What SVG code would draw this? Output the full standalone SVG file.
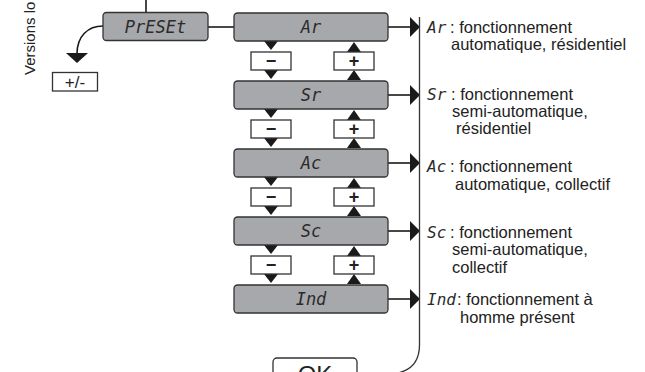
<svg xmlns="http://www.w3.org/2000/svg" width="645" height="372" viewBox="0 0 645 372">
<style>
.box{fill:#a7a8ab;stroke:#333;stroke-width:1.3}
.wbox{fill:#fff;stroke:#333;stroke-width:1.3}
.lcd{font-family:"DejaVu Sans Mono",monospace;font-style:italic;font-size:17px;fill:#2b2b2b;text-anchor:middle}
.lcds{font-family:"DejaVu Sans Mono",monospace;font-style:italic;font-size:16px;fill:#2b2b2b}
.pm{font-family:"Liberation Sans",Arial,sans-serif;font-weight:bold;font-size:18px;fill:#222;text-anchor:middle}
.txt{font-family:"Liberation Sans",Arial,sans-serif;font-size:16.5px;fill:#222}
.ln{fill:none;stroke:#1a1a1a;stroke-width:1.6}
.thin{fill:none;stroke:#333;stroke-width:1.3}
.tri{fill:#1a1a1a}
</style>
<defs>
<polygon id="dn" points="-7,0 7,0 0,9" class="tri"/>
<polygon id="up" points="-7,0 7,0 0,-10" class="tri"/>
<polygon id="rt" points="0,-10 10,0 0,10" class="tri"/>
</defs>

<text class="txt" transform="translate(35,75) rotate(-90)" style="font-size:15px">Versions lo</text>

<g id="connectors">
<line class="ln" x1="146" y1="0" x2="146" y2="12.5"/>
<line class="ln" x1="208" y1="27" x2="234" y2="27"/>
<path class="ln" d="M103,26 C88,26 77,36 77,54"/>
<polygon class="tri" points="66,53 88,53 77,63"/>
<line class="ln" x1="388" y1="27" x2="411" y2="27"/><use href="#rt" x="410" y="27"/>
<line class="ln" x1="388" y1="95" x2="411" y2="95"/><use href="#rt" x="410" y="95"/>
<line class="ln" x1="388" y1="163" x2="411" y2="163"/><use href="#rt" x="410" y="163"/>
<line class="ln" x1="388" y1="231" x2="411" y2="231"/><use href="#rt" x="410" y="231"/>
<line class="ln" x1="388" y1="299" x2="411" y2="299"/><use href="#rt" x="410" y="299"/>
<path class="thin" d="M419.5,17 L419.5,345 C419.5,362 411,370 398,373"/>
<use href="#dn" x="271" y="41"/><use href="#dn" x="271" y="70"/><use href="#up" x="354" y="52"/><use href="#up" x="354" y="80"/>
<use href="#dn" x="271" y="109"/><use href="#dn" x="271" y="138"/><use href="#up" x="354" y="120"/><use href="#up" x="354" y="148"/>
<use href="#dn" x="271" y="177"/><use href="#dn" x="271" y="206"/><use href="#up" x="354" y="188"/><use href="#up" x="354" y="216"/>
<use href="#dn" x="271" y="245"/><use href="#dn" x="271" y="274"/><use href="#up" x="354" y="256"/><use href="#up" x="354" y="284"/>
</g>

<g id="preset"><rect class="box" x="103" y="12.5" width="105" height="28" rx="3.5"/><text class="lcd" x="155.5" y="33">PrESEt</text></g>
<g id="plusminus"><rect class="wbox" x="52.5" y="72.5" width="45" height="18.5"/><text class="txt" x="75" y="88" text-anchor="middle" style="font-size:17px">+/-</text></g>

<g id="Ar"><rect class="box" x="234" y="13" width="154" height="28" rx="3.5"/><text class="lcd" x="311" y="33">Ar</text></g>
<g id="Sr"><rect class="box" x="234" y="81" width="154" height="28" rx="3.5"/><text class="lcd" x="311" y="101">Sr</text></g>
<g id="Ac"><rect class="box" x="234" y="149" width="154" height="28" rx="3.5"/><text class="lcd" x="311" y="169">Ac</text></g>
<g id="Sc"><rect class="box" x="234" y="217" width="154" height="28" rx="3.5"/><text class="lcd" x="311" y="237">Sc</text></g>
<g id="Ind"><rect class="box" x="234" y="285" width="154" height="28" rx="3.5"/><text class="lcd" x="311" y="305">Ind</text></g>

<g id="minus1"><rect class="wbox" x="251" y="52" width="40" height="18"/><text class="pm" x="271" y="67">−</text></g>
<g id="plus1"><rect class="wbox" x="334" y="52" width="40" height="18"/><text class="pm" x="354" y="67">+</text></g>
<g id="minus2"><rect class="wbox" x="251" y="120" width="40" height="18"/><text class="pm" x="271" y="135">−</text></g>
<g id="plus2"><rect class="wbox" x="334" y="120" width="40" height="18"/><text class="pm" x="354" y="135">+</text></g>
<g id="minus3"><rect class="wbox" x="251" y="188" width="40" height="18"/><text class="pm" x="271" y="203">−</text></g>
<g id="plus3"><rect class="wbox" x="334" y="188" width="40" height="18"/><text class="pm" x="354" y="203">+</text></g>
<g id="minus4"><rect class="wbox" x="251" y="256" width="40" height="18"/><text class="pm" x="271" y="271">−</text></g>
<g id="plus4"><rect class="wbox" x="334" y="256" width="40" height="18"/><text class="pm" x="354" y="271">+</text></g>

<g id="ok"><rect class="wbox" x="273" y="358" width="84" height="30" rx="4"/><text class="txt" x="315" y="383" text-anchor="middle" style="font-size:24px">OK</text></g>

<g id="desc-Ar"><text class="lcds" x="427" y="33">Ar</text><text class="txt" x="450" y="33">: fonctionnement</text><text class="txt" x="451" y="50">automatique, résidentiel</text></g>
<g id="desc-Sr"><text class="lcds" x="427" y="100">Sr</text><text class="txt" x="451" y="100">: fonctionnement</text><text class="txt" x="452" y="117">semi-automatique,</text><text class="txt" x="456" y="134">résidentiel</text></g>
<g id="desc-Ac"><text class="lcds" x="427" y="172">Ac</text><text class="txt" x="450" y="172">: fonctionnement</text><text class="txt" x="455" y="190">automatique, collectif</text></g>
<g id="desc-Sc"><text class="lcds" x="427" y="238">Sc</text><text class="txt" x="450" y="238">: fonctionnement</text><text class="txt" x="452" y="255">semi-automatique,</text><text class="txt" x="452" y="273">collectif</text></g>
<g id="desc-Ind"><text class="lcds" x="427" y="305">Ind</text><text class="txt" x="457" y="305">: fonctionnement à</text><text class="txt" x="460" y="323">homme présent</text></g>
</svg>
